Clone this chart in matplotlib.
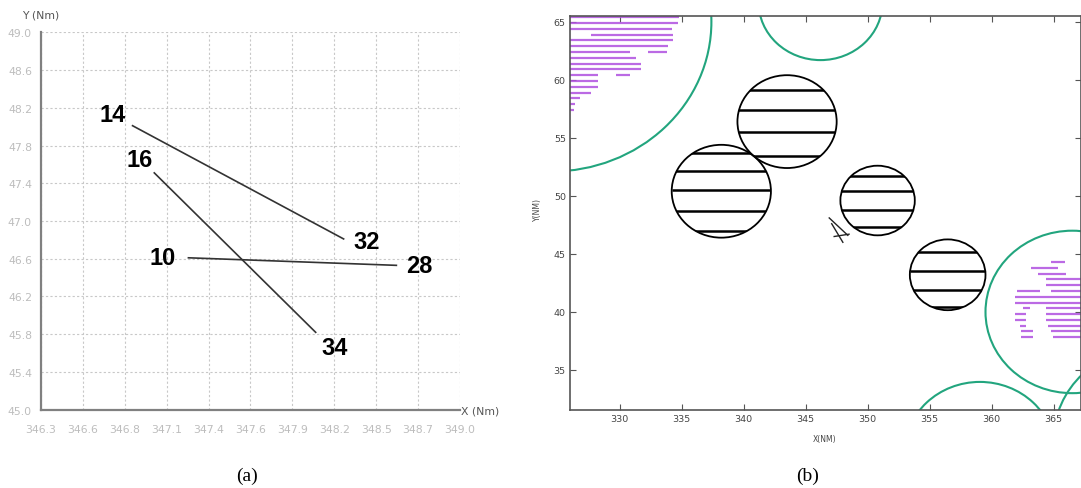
import numpy as np
import matplotlib
matplotlib.use('Agg')
import matplotlib.pyplot as plt
from matplotlib.patches import Circle

# ---- panel (a): track pairs ----
start_ids = ['14', '16', '10']
end_ids = ['32', '34', '28']
x_start = [346.89, 347.03, 347.25]
y_start = [48.01, 47.51, 46.61]
x_end = [348.25, 348.07, 348.59]
y_end = [46.81, 45.82, 46.53]
a_xticks = [346.3, 346.57, 346.84, 347.11, 347.38, 347.65, 347.92, 348.19, 348.46, 348.73, 349.0]
a_xticklabels = ['346.3', '346.6', '346.8', '347.1', '347.4', '347.6',
                 '347.9', '348.2', '348.5', '348.7', '349.0']
a_yticks = [45.0, 45.4, 45.8, 46.2, 46.6, 47.0, 47.4, 47.8, 48.2, 48.6, 49.0]

# ---- panel (b): weather cells / obstacles ----
circle_x = [338.2, 343.5, 350.8, 356.45]
circle_y = [50.4, 56.4, 49.6, 43.2]
circle_r = [4.0, 4.0, 3.0, 3.05]
hatch_levels = [[53.7, 52.15, 50.5, 48.7, 47.0],
                [59.1, 57.4, 55.5, 53.4],
                [51.7, 50.4, 48.8, 47.3],
                [45.2, 43.5, 41.9, 40.4]]
green_x = [324.5, 346.2, 366.5, 359.05, 373.0]
green_y = [65.0, 66.7, 40.0, 27.9, 29.0]
green_r = [12.9, 5.0, 7.0, 6.07, 8.0]

# purple rows: (y, x_from, x_to)
purple_y = [65.4, 64.9, 64.4, 63.9, 63.4, 62.9, 62.4, 62.4, 61.9, 61.4, 60.9,
            60.4, 60.4, 59.9, 59.4, 58.9, 58.4, 57.9, 57.4,
            44.3, 43.8, 43.3, 42.8, 42.3, 41.8, 41.8, 41.3, 40.8, 40.3, 40.3,
            39.8, 39.8, 39.3, 39.3, 38.8, 38.8, 38.4, 38.4, 37.8, 37.8]
purple_x0 = [326.0, 326.0, 326.0, 327.7, 326.0, 326.0, 326.0, 332.3, 326.0, 326.0, 326.0,
             326.0, 329.7, 326.0, 326.0, 326.0, 326.0, 326.0, 326.0,
             364.8, 363.2, 363.7, 364.4, 364.4, 362.0, 364.8, 361.9, 361.9, 362.5, 364.4,
             361.9, 364.4, 361.9, 364.4, 362.3, 364.55, 362.4, 364.8, 362.4, 364.95]
purple_x1 = [334.8, 334.7, 334.2, 334.3, 334.3, 333.9, 330.8, 333.8, 331.3, 331.7, 331.7,
             328.25, 330.8, 328.25, 328.25, 327.7, 326.8, 326.4, 326.3,
             365.9, 365.35, 366.0, 367.2, 367.2, 363.9, 367.2, 367.2, 367.2, 363.1, 367.2,
             362.8, 367.2, 362.8, 367.2, 362.8, 367.2, 363.3, 367.2, 363.3, 367.2]

# small aircraft scribble
mark_x0 = [346.9, 347.1, 347.3]
mark_y0 = [48.1, 47.6, 46.5]
mark_x1 = [348.4, 348.0, 348.5]
mark_y1 = [46.6, 46.0, 46.7]
b_xticks = [330, 335, 340, 345, 350, 355, 360, 365]
b_yticks = [35, 40, 45, 50, 55, 60, 65]

fig = plt.figure(figsize=(10.81, 4.89), dpi=100)

# ------------- (a) -------------
ax = fig.add_axes([41 / 1081, 1 - 410.7 / 489, 419 / 1081, 377.4 / 489])
ax.set_xlim(346.3, 349.0)
ax.set_ylim(45.0, 49.0)
ax.set_xticks(a_xticks)
ax.set_xticklabels(a_xticklabels)
ax.set_yticks(a_yticks)
ax.set_yticklabels(['%.1f' % v for v in a_yticks])
ax.grid(True, color='#c8c8c8', linestyle=(0, (2, 2)), linewidth=0.8)
ax.tick_params(length=0, labelsize=7.8, labelcolor='#bdbdbd')
ax.tick_params(axis='x', pad=10)
ax.tick_params(axis='y', pad=6.5)
for s in ['top', 'right']:
    ax.spines[s].set_visible(False)
for s in ['left', 'bottom']:
    ax.spines[s].set_color('#808080')
    ax.spines[s].set_linewidth(1.6)
ax.set_axisbelow(True)

offs_start = [(-14.4, 7.9), (-10.8, 9.4), (-18.7, 0)]
offs_end = [(16.6, -2.2), (13.7, -10.8), (16.6, 0)]
for i in range(len(start_ids)):
    ax.plot([x_start[i], x_end[i]], [y_start[i], y_end[i]], color='#333333', lw=1.2)
    ax.annotate(start_ids[i], (x_start[i], y_start[i]), xytext=offs_start[i],
                textcoords='offset points', ha='center', va='center',
                fontsize=17, fontweight='bold', family='Liberation Sans')
    ax.annotate(end_ids[i], (x_end[i], y_end[i]), xytext=offs_end[i],
                textcoords='offset points', ha='center', va='center',
                fontsize=17, fontweight='bold', family='Liberation Sans')

fig.text(41 / 1081, 1 - 16 / 489, 'Y (Nm)', ha='center', va='center', fontsize=7.8, color='#555555')
fig.text(461 / 1081, 1 - 411.5 / 489, 'X (Nm)', ha='left', va='center', fontsize=7.8, color='#555555')

# ------------- (b) -------------
bx = fig.add_axes([570 / 1081, 1 - 411 / 489, 511 / 1081, 394 / 489])
bx.set_xlim(326.0, 367.2)
bx.set_ylim(31.55, 65.5)
bx.set_xticks(b_xticks)
bx.set_yticks(b_yticks)
bx.tick_params(direction='in', length=4, labelsize=6.8, labelcolor='#444444', color='#555555',
               top=True, right=True, pad=3)
for s in bx.spines.values():
    s.set_color('#555555')
    s.set_linewidth(1.2)

bx.hlines(purple_y, purple_x0, purple_x1, colors='#b050e0', lw=1.6, alpha=0.85)

for cx, cy, r in zip(green_x, green_y, green_r):
    bx.add_patch(Circle((cx, cy), r, fill=False, ec='#22a57e', lw=1.5))

for cx, cy, r, lev in zip(circle_x, circle_y, circle_r, hatch_levels):
    c = Circle((cx, cy), r, fill=False, ec='black', lw=1.3)
    bx.add_patch(c)
    hl = bx.hlines(lev, cx - r, cx + r, colors='black', lw=1.8)
    hl.set_clip_path(c)

for i in range(len(mark_x0)):
    bx.plot([mark_x0[i], mark_x1[i]], [mark_y0[i], mark_y1[i]], color='#222222', lw=1.0)

fig.text(537 / 1081, 1 - 210 / 489, 'Y(NM)', rotation=90, ha='center', va='center', fontsize=5.5, color='#444444')
fig.text(825 / 1081, 1 - 440 / 489, 'X(NM)', ha='center', va='center', fontsize=5.5, color='#444444')

fig.text(247 / 1081, 1 - 476 / 489, '(a)', ha='center', va='center', fontsize=14, family='Liberation Serif')
fig.text(808 / 1081, 1 - 476 / 489, '(b)', ha='center', va='center', fontsize=14, family='Liberation Serif')

fig.savefig('out.png', dpi=100)
